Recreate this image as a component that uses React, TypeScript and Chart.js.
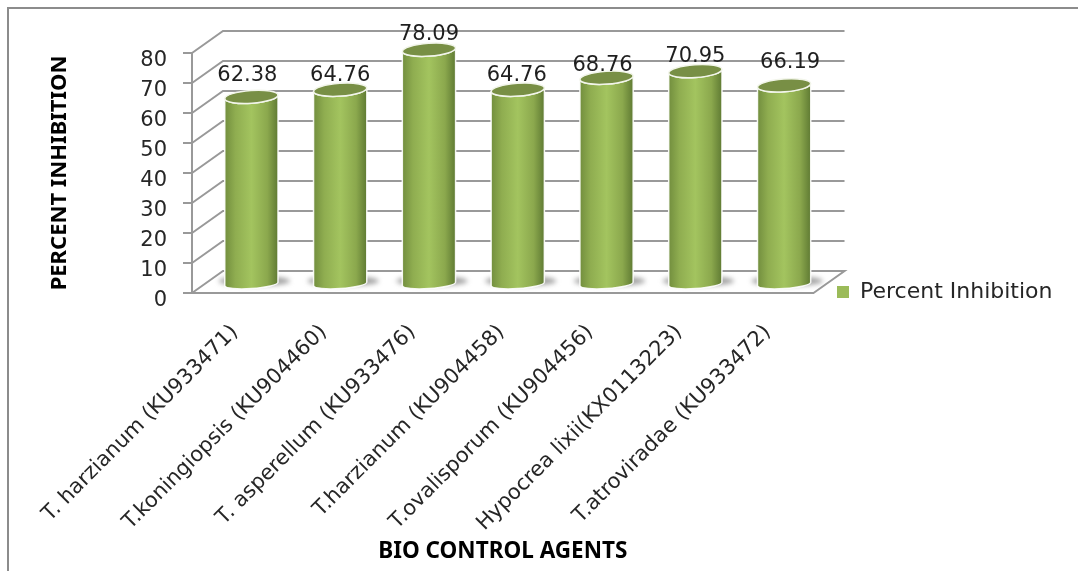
import React, { useEffect, useRef } from "react";
import { Chart, registerables } from "chart.js";

Chart.register(...registerables);

const categories = [
  "T. harzianum (KU933471)",
  "T.koningiopsis (KU904460)",
  "T. asperellum (KU933476)",
  "T.harzianum (KU904458)",
  "T.ovalisporum (KU904456)",
  "Hypocrea lixii(KX0113223)",
  "T.atroviradae (KU933472)",
];
const seriesName = "Percent Inhibition";
const percentInhibition = [62.38, 64.76, 78.09, 64.76, 68.76, 70.95, 66.19];
const valueLabels = ["62.38", "64.76", "78.09", "64.76", "68.76", "70.95", "66.19"];
const yTitle = "PERCENT INHIBITION";
const xTitle = "BIO CONTROL AGENTS";

const labelDx = [-4, 0, 0, -1, -4, 0, 6];
const labelDy = [21, 14, 15, 14, 12, 15, 23];

const GRID = "#999999";
const FONT = "'DejaVu Sans', sans-serif";
const TITLE_FONT = "'Noto Sans', sans-serif";
const DEPTH_X = 31;
const DEPTH_Y = 22;
const BAR_DX = 15;
const BAR_DY = 9;
const TILT = (-4 * Math.PI) / 180;

const scene = {
  id: "scene3d",
  beforeDatasetsDraw(chart: any) {
    const { ctx, chartArea } = chart;
    const y = chart.scales.y;
    const { left, right } = chartArea;
    ctx.save();
    ctx.strokeStyle = GRID;
    ctx.lineWidth = 2;
    // walls and floor
    y.ticks.forEach((t: any) => {
      const py = y.getPixelForValue(t.value);
      ctx.beginPath();
      ctx.moveTo(left, py);
      ctx.lineTo(left + DEPTH_X, py - DEPTH_Y);
      ctx.lineTo(right + DEPTH_X, py - DEPTH_Y);
      if (t.value === 0) ctx.lineTo(right, py);
      ctx.stroke();
    });
    const base = y.getPixelForValue(0) - BAR_DY;
    const meta = chart.getDatasetMeta(0);

    // floor shadows
    meta.data.forEach((el: any) => {
      const cx = el.x + BAR_DX;
      ctx.save();
      ctx.filter = "blur(2.5px)";
      ctx.fillStyle = "rgba(120,120,120,0.7)";
      ctx.beginPath();
      ctx.ellipse(cx + 3, base - 3, el.width / 2 + 9, 5, 0, 0, Math.PI * 2);
      ctx.fill();
      ctx.restore();
    });

    // cylinders
    meta.data.forEach((el: any, i: number) => {
      const cx = el.x + BAR_DX;
      const top = el.y - BAR_DY;
      const rx = el.width / 2;
      const dy = rx * Math.sin(TILT);
      const body = () => {
        ctx.beginPath();
        ctx.moveTo(cx - rx, top - dy);
        ctx.lineTo(cx - rx, base - dy);
        ctx.ellipse(cx, base, rx, 4.6, TILT, Math.PI, 0, true);
        ctx.lineTo(cx + rx, top + dy);
        ctx.ellipse(cx, top, rx, 6.4, TILT, 0, Math.PI, false);
        ctx.closePath();
      };
      const g = ctx.createLinearGradient(cx - rx, 0, cx + rx, 0);
      g.addColorStop(0, "#728e3e");
      g.addColorStop(0.2, "#8fad50");
      g.addColorStop(0.5, "#a3c45f");
      g.addColorStop(0.8, "#8ba84d");
      g.addColorStop(1, "#5f7a33");
      body();
      ctx.fillStyle = g;
      ctx.fill();
      ctx.strokeStyle = "rgba(255,255,255,0.9)";
      ctx.lineWidth = 1.5;
      ctx.stroke();
      ctx.beginPath();
      ctx.ellipse(cx, top, rx, 6.4, TILT, 0, Math.PI * 2);
      ctx.fillStyle = "#788f45";
      ctx.fill();
      ctx.strokeStyle = "#f2f5ea";
      ctx.lineWidth = 1.5;
      ctx.stroke();
    });

    // value labels
    ctx.fillStyle = "#1f1f1f";
    ctx.font = `21px ${FONT}`;
    ctx.textAlign = "center";
    ctx.textBaseline = "middle";
    meta.data.forEach((el: any, i: number) => {
      ctx.fillText(valueLabels[i], el.x + BAR_DX + labelDx[i], el.y - BAR_DY - labelDy[i]);
    });
    ctx.restore();
    return false;
  },
};

const placeLegend = {
  id: "placeLegend",
  afterLayout(chart: any) {
    const l = chart.legend;
    const w = l.width;
    const h = l.height;
    l.left = 827;
    l.right = 827 + w;
    l.top = 292 - h / 2;
    l.bottom = 292 + h / 2;
  },
};

export default function App() {
  const ref = useRef<HTMLCanvasElement>(null);
  useEffect(() => {
    const chart = new Chart(ref.current as HTMLCanvasElement, {
      type: "bar",
      data: {
        labels: categories,
        datasets: [
          {
            label: seriesName,
            data: percentInhibition,
            backgroundColor: "#9BBB59",
            borderWidth: 0,
            barPercentage: 0.6,
            categoryPercentage: 1,
          },
        ],
      },
      plugins: [scene, placeLegend],
      options: {
        responsive: false,
        devicePixelRatio: 1,
        animation: false,
        layout: { padding: { left: 47, top: 53, bottom: 6, right: 29 } },
        plugins: {
          title: { display: false },
          tooltip: { enabled: false },
          legend: {
            display: true,
            position: "right",
            labels: {
              boxWidth: 12,
              boxHeight: 12,
              padding: 10,
              color: "#262626",
              font: { family: FONT, size: 22 },
            },
          },
        },
        scales: {
          x: {
            type: "category",
            offset: true,
            grid: { display: false },
            border: { display: true, color: GRID, width: 2 },
            afterFit: (s: any) => {
              s.height = 272;
            },
            ticks: {
              autoSkip: false,
              minRotation: 45,
              maxRotation: 45,
              padding: 19,
              labelOffset: -1.5,
              color: "#262626",
              font: { family: FONT, size: 21 },
            },
            title: {
              display: true,
              text: xTitle,
              color: "#000000",
              padding: { top: 0, bottom: 0 },
              font: { family: TITLE_FONT, size: 22.5, weight: "bold" },
            },
          },
          y: {
            type: "linear",
            min: 0,
            max: 80,
            afterFit: (s: any) => {
              s.width = 145;
            },
            grid: {
              drawOnChartArea: false,
              drawTicks: true,
              tickLength: 9,
              color: GRID,
              lineWidth: 2,
            },
            border: { display: true, color: GRID, width: 2 },
            ticks: {
              stepSize: 10,
              padding: 16,
              labelOffset: 7.5,
              color: "#262626",
              font: { family: FONT, size: 21 },
            },
            title: {
              display: true,
              text: yTitle,
              color: "#000000",
              padding: { top: 0, bottom: 0 },
              font: { family: TITLE_FONT, size: 22, weight: "bold" },
            },
          },
        },
      },
    } as any);
    return () => chart.destroy();
  }, []);
  return (
    <div style={{ position: "fixed", left: 0, top: 0, width: 1078, height: 571, background: "#fff", overflow: "hidden" }}>
      <div
        style={{
          position: "absolute",
          left: 7,
          top: 7,
          width: 1071,
          height: 564,
          boxSizing: "border-box",
          borderTop: "2px solid #8c8c8c",
          borderLeft: "2px solid #8c8c8c",
        }}
      />
      <canvas ref={ref} width={1078} height={571} style={{ position: "absolute", left: 0, top: 0, display: "block", filter: "blur(0.35px)" }} />
    </div>
  );
}
